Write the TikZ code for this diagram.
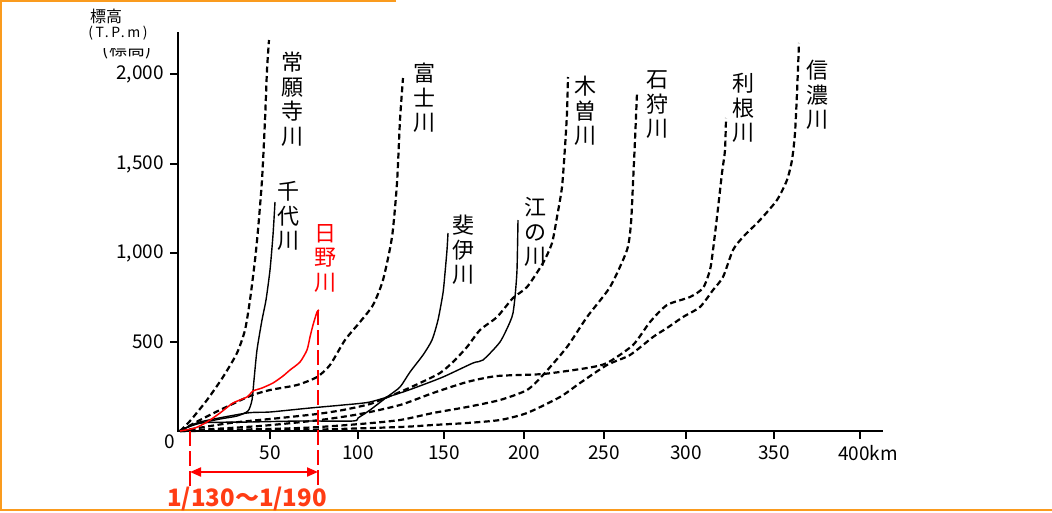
\documentclass[tikz,border=0pt]{standalone}
\usepackage{fontspec}
\setmainfont{Noto Sans CJK JP}
\usetikzlibrary{arrows.meta}
\definecolor{hinored}{RGB}{255,0,0}
\definecolor{graderange}{RGB}{255,60,20}
\definecolor{frameorange}{RGB}{250,155,30}

\tikzset{
  rivlabel/.style={align=center, font=\fontsize{22}{24.5}\selectfont, inner sep=0pt},
  ticklabel/.style={font=\fontsize{19}{19}\selectfont, inner sep=0pt},
  dashriver/.style={line width=2.2pt, dash pattern=on 6pt off 3.5pt, line join=round},
  solidriver/.style={line width=1.4pt, line join=round},
}

\begin{document}
\begin{tikzpicture}[x=1pt, y=-1pt]
    \useasboundingbox (0,0) rectangle (1052,512);
    % Frame
    \draw[frameorange, line width=2.5pt] (396,1) -- (1.2,1) -- (1.2,510) -- (1052,510);

    % Axes
    \coordinate (orig) at (178,431);
    \coordinate (ytop) at (178,32);
    \coordinate (xend) at (883,431);
    \draw[line width=1.8pt] (ytop) -- (orig) -- (xend);

    % Axis title
    \node[font=\fontsize{16}{16}\selectfont, inner sep=0pt] (ytitle) at (106,16) {標高};
    \node[font=\fontsize{14}{14}\selectfont\addfontfeature{LetterSpace=18}, inner sep=0pt] (yunit) at (118,33) {(T.P.m)};
    \begin{scope}
        \clip (95,48) rectangle (160,61);
        \node[font=\fontsize{18}{18}\selectfont, inner sep=0pt] (yold) at (127,50) {(標高)};
    \end{scope}

    % Height ticks
    \foreach \yv/\lab in {74/{2,000}, 164/{1,500}, 253/{1,000}, 342/500} {
        \draw[line width=1.5pt] (170,\yv) -- (178,\yv);
        \node[ticklabel, anchor=east] (h\yv) at (164,\yv) {\lab};
    }
    \node[ticklabel] (hzero) at (170,442) {0};

    % Distance ticks
    \foreach \xv/\lab in {270/50, 358/100, 444/150, 524/200, 604/250, 686/300, 774/350} {
        \draw[line width=1.5pt] (\xv,431) -- (\xv,439);
        \node[ticklabel] (d\lab) at (\xv,453) {\lab};
    }
    \draw[line width=1.5pt] (860,431) -- (860,439);
    \node[ticklabel] (d400) at (868,453) {400km};

    % Joganji
    \draw[dashriver] plot[smooth, tension=0.4] coordinates {(180,431) (190,421) (207,400) (223,377) (237,353) (245,330) (250,300) (255,260) (258,230) (262,180) (265,120) (267,70) (269,40)};
    % Fuji
    \draw[dashriver] plot[smooth, tension=0.4] coordinates {(180,431) (200,420) (220,410) (250,396) (270,390) (297,385) (317,377) (330,365) (345,340) (360,322) (373,305) (383,280) (392,237) (397,183) (400,120) (403,78)};
    % Kiso
    \draw[dashriver] plot[smooth, tension=0.4] coordinates {(180,431) (230,423) (280,418) (317,414) (343,410) (370,404) (390,396) (400,392) (420,383) (440,373) (453,362) (467,347) (480,330) (497,317) (513,298) (527,287) (543,263) (552,243) (557,217) (562,187) (565,147) (567,113) (568,77)};
    % Ishikari
    \draw[dashriver] plot[smooth, tension=0.4] coordinates {(180,431) (300,428) (360,424) (400,420) (433,413) (467,407) (500,400) (527,390) (543,375) (567,347) (587,317) (610,287) (627,250) (631,223) (633,183) (635,140) (637,93)};
    % Tone
    \draw[dashriver] plot[smooth, tension=0.4] coordinates {(180,431) (260,426) (320,420) (360,414) (400,405) (433,393) (467,382) (497,376) (543,374) (587,368) (607,363) (633,345) (650,322) (667,305) (690,297) (703,288) (710,270) (713,250) (717,217) (722,173) (725,150) (726,118)};
    % Shinano
    \draw[dashriver] plot[smooth, tension=0.4] coordinates {(180,431) (300,430) (400,427) (433,425) (467,423) (500,420) (527,413) (560,397) (580,383) (607,365) (630,355) (653,337) (667,328) (683,317) (700,307) (713,290) (723,277) (733,250) (743,237) (760,220) (777,200) (787,180) (792,160) (795,133) (797,93) (799,43)};

    % Sendai
    \draw[solidriver] plot[smooth, tension=0.4] coordinates {(180,430) (197,424) (220,419) (237,416) (248,411) (252,400) (254,380) (257,350) (262,320) (266,300) (270,270) (273,235) (275,202)};
    % Hii
    \draw[solidriver] plot[smooth, tension=0.4] coordinates {(180,431) (200,423) (250,422) (300,421) (353,421) (358,418) (370,410) (387,397) (400,387) (410,372) (423,355) (432,340) (438,320) (443,293) (445,273) (447,250) (448,233)};
    % Gono
    \draw[solidriver] plot[smooth, tension=0.4] coordinates {(180,431) (200,422) (247,413) (270,412) (310,408) (343,405) (370,402) (400,393) (417,387) (443,377) (473,363) (483,360) (500,342) (510,322) (513,313) (515,297) (517,270) (518,220)};

    % Hino
    \draw[hinored, line width=1.5pt, line join=round] plot[smooth, tension=0.4] coordinates {(180,431) (195,428) (207,422) (220,413) (233,403) (247,397) (253,391) (262,388) (273,383) (283,376) (290,370) (300,362) (307,350) (310,337) (313,325) (317,312) (319,310)};

    % River names
    \node[rivlabel] (joganji) at (292,99) {常\\願\\寺\\川};
    \node[rivlabel] (sendai) at (288,216) {千\\代\\川};
    \node[rivlabel, text=hinored] (hino) at (325,258) {日\\野\\川};
    \node[rivlabel] (fuji) at (424,98) {富\\士\\川};
    \node[rivlabel] (hii) at (463,250) {斐\\伊\\川};
    \node[rivlabel] (gono) at (535,232) {江\\の\\川};
    \node[rivlabel] (kiso) at (585,111) {木\\曽\\川};
    \node[rivlabel] (ishikari) at (657,105) {石\\狩\\川};
    \node[rivlabel] (tone) at (743,108) {利\\根\\川};
    \node[rivlabel] (shinano) at (817,95) {信\\濃\\川};

    % Gradient range
    \coordinate (gl) at (190,472);
    \coordinate (gr) at (318,472);
    \draw[hinored, line width=2.2pt, dash pattern=on 15pt off 5pt] (190,431) -- (190,490);
    \draw[hinored, line width=2.2pt, dash pattern=on 15pt off 5pt] (318,310) -- (318,490);
    \draw[hinored, line width=2pt, {Triangle[length=11pt,width=9pt]}-{Triangle[length=11pt,width=9pt]}] (gl) -- (gr);
    \node[font=\fontsize{24}{24}\selectfont\bfseries, text=graderange, inner sep=0pt] (grad) at (247,499) {1/130～1/190};
\end{tikzpicture}
\end{document}
